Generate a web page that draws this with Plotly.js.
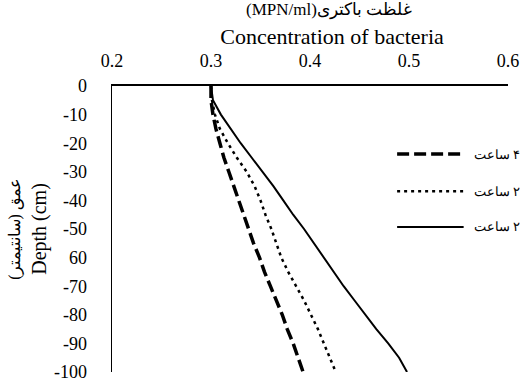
<!DOCTYPE html>
<html>
<head>
<meta charset="utf-8">
<script src="https://cdn.plot.ly/plotly-3.0.1.min.js"></script>
<style>html,body{margin:0;padding:0;background:#fff;}#chart{width:521px;height:385px;}</style>
</head>
<body>
<div id="chart"></div>
<script>
const depth = [0,-5,-10,-15,-20,-25,-30,-35,-40,-45,-50,-55,-60,-65,-70,-75,-80,-85,-90,-95,-100];
const conc4h = [0.300,0.300,0.302,0.305,0.309,0.313,0.318,0.323,0.328,0.333,0.338,0.343,0.349,0.354,0.360,0.366,0.372,0.377,0.383,0.388,0.393];
const conc2hA = [0.300,0.301,0.304,0.309,0.317,0.326,0.336,0.344,0.350,0.355,0.361,0.366,0.371,0.378,0.386,0.394,0.401,0.408,0.414,0.420,0.426];
const conc2hB = [0.300,0.302,0.310,0.320,0.330,0.341,0.352,0.363,0.373,0.383,0.394,0.404,0.414,0.424,0.434,0.445,0.456,0.467,0.479,0.490,0.498];
const seriesNames = ["\u200F۴ ساعت", "\u200F۲ ساعت", "\u200F۲ ساعت"];
const yTickVals = [0,-10,-20,-30,-40,-50,-60,-70,-80,-90,-100];
const yTickText = ["0","-10","-20","-30","-40","-50","60","-70","-80","-90","-100"];
const xTickVals = [0.2,0.3,0.4,0.5,0.6];
const xTickText = ["0.2","0.3","0.4","0.5","0.6"];

const F = "Liberation Serif";
const styles = [
  {color: '#000', width: 3.5, dash: '12px,5px'},
  {color: '#000', width: 2.5, dash: '3px,4px'},
  {color: '#000', width: 2}
];
const data = [conc4h, conc2hA, conc2hB];
const traces = data.map((xs, i) => ({
  x: xs, y: depth, name: seriesNames[i], mode: 'lines', showlegend: false, line: styles[i]
}));

// custom legend (sample line + label) in paper coordinates
const legY = [0.762, 0.632, 0.507];
const shapes = [], annotations = [];
legY.forEach((yy, i) => {
  shapes.push({type: 'line', xref: 'paper', yref: 'paper', x0: 0.72, x1: 0.888, y0: yy, y1: yy,
               line: {color: '#000', width: styles[i].width, dash: styles[i].dash || 'solid'}});
  annotations.push({xref: 'paper', yref: 'paper', x: 0.91, y: yy, xanchor: 'left', yanchor: 'middle',
                    text: seriesNames[i], showarrow: false, font: {family: F, size: 13, color: '#000'}});
});

const pad = n => '&nbsp;'.repeat(n);
const layout = {
  width: 521, height: 385,
  margin: {l: 112, r: 13, t: 86, b: 13},
  paper_bgcolor: '#fff', plot_bgcolor: '#fff',
  font: {family: F, size: 16, color: '#000'},
  showlegend: false,
  shapes: shapes, annotations: annotations,
  xaxis: {side: 'top', range: [0.2, 0.6], tickvals: xTickVals, ticktext: xTickText,
          showgrid: false, zeroline: false, showline: true, linecolor: '#000', linewidth: 2,
          ticks: '', ticklabelstandoff: 10, tickfont: {family: F, size: 18},
          title: {text: '<span style="font-size:17px">' + pad(9) + '(MPN/ml)غلظت باکتری</span><br>' + pad(8) + 'Concentration of bacteria',
                  font: {family: F, size: 22}, standoff: 3}},
  yaxis: {range: [-100, 0], tickvals: yTickVals, ticktext: yTickText,
          showgrid: false, zeroline: false, showline: true, linecolor: '#000', linewidth: 1.5,
          ticks: '', ticklabelstandoff: 20, tickfont: {family: F, size: 18},
          title: {text: '<span style="font-size:16px">\u200Fعمق (سانتیمتر)\u200F</span><br>Depth (cm)',
                  font: {family: F, size: 20}, standoff: 2}}
};
Plotly.newPlot('chart', traces, layout, {displayModeBar: false, staticPlot: true});
</script>
</body>
</html>
